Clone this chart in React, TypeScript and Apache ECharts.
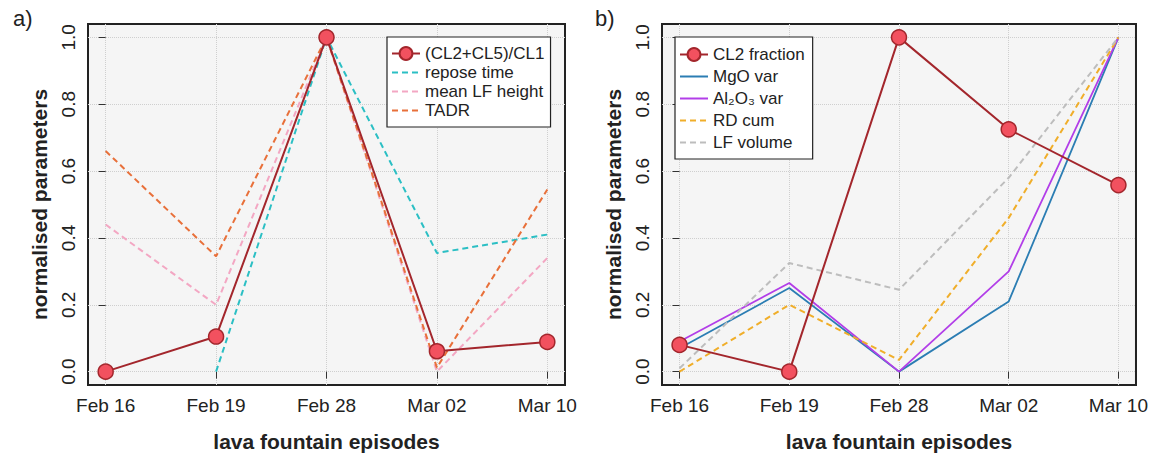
import React, { useEffect, useRef } from "react";
import * as echarts from "echarts";

const episodes = ["Feb 16", "Feb 19", "Feb 28", "Mar 02", "Mar 10"];
const yTicks = [0, 0.2, 0.4, 0.6, 0.8, 1.0];
const xTicks = [0, 1, 2, 3, 4];

// panel a
const clRatio = [0.0, 0.105, 1.0, 0.061, 0.089];
const reposeTime = [null, 0.0, 1.0, 0.355, 0.41];
const meanLFHeight = [0.44, 0.2, 1.0, 0.0, 0.34];
const tadr = [0.66, 0.345, 1.0, 0.012, 0.545];

// panel b
const cl2Fraction = [0.08, 0.0, 1.0, 0.725, 0.558];
const mgoVar = [0.07, 0.25, 0.0, 0.21, 1.0];
const al2o3Var = [0.09, 0.265, 0.0, 0.3, 1.0];
const rdCum = [0.0, 0.2, 0.035, 0.46, 1.0];
const lfVolume = [0.01, 0.325, 0.245, 0.58, 1.0];

const legendA = ["(CL2+CL5)/CL1", "repose time", "mean LF height", "TADR"];
const legendB = ["CL2 fraction", "MgO var", "Al₂O₃ var", "RD cum", "LF volume"];

const FONT = "Liberation Sans, Arial, sans-serif";

const pts = (vals: (number | null)[]) => vals.map((v, i) => [i, v]);

function xAxisFor(gridIndex: number) {
  return {
    type: "value",
    gridIndex,
    min: -0.16,
    max: 4.16,
    splitNumber: 4,
    axisLine: { show: false },
    axisTick: { show: true, length: 7, customValues: xTicks, lineStyle: { color: "#333", width: 1 } },
    axisLabel: {
      customValues: xTicks,
      formatter: (v: number) => episodes[Math.round(v)] ?? "",
      fontSize: 19,
      color: "#222",
      fontFamily: FONT,
      margin: 11,
    },
    splitLine: { show: true, lineStyle: { type: "dotted", color: "#cfcfcf", width: 1 } },
    name: "lava fountain episodes",
    nameLocation: "middle",
    nameGap: 46,
    nameTextStyle: { fontSize: 21, fontWeight: "bold", color: "#222", fontFamily: FONT },
  };
}

function yAxisFor(gridIndex: number) {
  return {
    type: "value",
    gridIndex,
    min: -0.04,
    max: 1.04,
    axisLine: { show: false },
    axisTick: { show: true, length: 7, customValues: yTicks, lineStyle: { color: "#333", width: 1 } },
    axisLabel: {
      customValues: yTicks,
      rotate: 90,
      formatter: (v: number) => v.toFixed(1),
      fontSize: 19,
      color: "#222",
      fontFamily: FONT,
      margin: 10,
    },
    splitLine: { show: true, lineStyle: { type: "dotted", color: "#cfcfcf", width: 1 } },
    name: "normalised parameters",
    nameLocation: "middle",
    nameGap: 38,
    nameTextStyle: { fontSize: 21, fontWeight: "bold", color: "#222", fontFamily: FONT },
  };
}

const DARKRED = "#a3262c";
const MARKFILL = "#f2515f";

function markerSeries(name: string, vals: number[], idx: number) {
  return {
    type: "line",
    name,
    xAxisIndex: idx,
    yAxisIndex: idx,
    data: pts(vals),
    symbol: "circle",
    symbolSize: 15,
    z: 10,
    lineStyle: { color: DARKRED, width: 2 },
    itemStyle: { color: MARKFILL, borderColor: DARKRED, borderWidth: 1.5 },
  };
}

function plainSeries(name: string, vals: (number | null)[], idx: number, color: string, dashed: boolean) {
  return {
    type: "line",
    name,
    xAxisIndex: idx,
    yAxisIndex: idx,
    data: pts(vals),
    symbol: "none",
    showSymbol: false,
    connectNulls: false,
    lineStyle: { color, width: dashed ? 2 : 1.8, type: dashed ? [6, 4] : "solid" },
    itemStyle: { color },
  };
}

const legendData = (names: string[]) =>
  names.map((n, i) => (i === 0 ? { name: n } : { name: n, itemStyle: { opacity: 0, borderWidth: 0 } }));

export default function App() {
  const ref = useRef<HTMLDivElement>(null);
  useEffect(() => {
    if (!ref.current) return;
    const chart = echarts.init(ref.current, null, { renderer: "svg" });
    const legendBase = {
      orient: "vertical",
      backgroundColor: "#ffffff",
      borderColor: "#222",
      borderWidth: 1.2,
      borderRadius: 0,
      itemWidth: 28,
      itemHeight: 16,
      textStyle: { fontSize: 17, color: "#222", fontFamily: FONT },
    };
    chart.setOption({
      animation: false,
      backgroundColor: "#ffffff",
      textStyle: { fontFamily: FONT },
      title: [
        { text: "a)", left: 8, top: 2, textStyle: { fontSize: 22, fontWeight: "normal", color: "#222", fontFamily: FONT } },
        { text: "b)", left: 590, top: 2, textStyle: { fontSize: 22, fontWeight: "normal", color: "#222", fontFamily: FONT } },
      ],
      grid: [
        { left: 88, right: 586, top: 24, bottom: 72, show: true, backgroundColor: "#f5f5f5", borderColor: "#222", borderWidth: 2 },
        { left: 662, right: 12, top: 24, bottom: 72, show: true, backgroundColor: "#f5f5f5", borderColor: "#222", borderWidth: 2 },
      ],
      xAxis: [xAxisFor(0), xAxisFor(1)],
      yAxis: [yAxisFor(0), yAxisFor(1)],
      legend: [
        {
          ...legendBase,
          left: 387,
          top: 37,
          padding: [8, 6, 8, 4],
          itemGap: 2,
          data: legendData(legendA),
        },
        {
          ...legendBase,
          left: 675,
          top: 37,
          padding: [9, 8, 8, 4],
          itemGap: 5,
          data: legendData(legendB),
        },
      ],
      series: [
        plainSeries(legendA[1], reposeTime, 0, "#2bbfc4", true),
        plainSeries(legendA[2], meanLFHeight, 0, "#f3a7c3", true),
        plainSeries(legendA[3], tadr, 0, "#e8703a", true),
        markerSeries(legendA[0], clRatio, 0),
        plainSeries(legendB[1], mgoVar, 1, "#2b7db3", false),
        plainSeries(legendB[2], al2o3Var, 1, "#b23ee8", false),
        plainSeries(legendB[3], rdCum, 1, "#f0ae2a", true),
        plainSeries(legendB[4], lfVolume, 1, "#bdbdbd", true),
        markerSeries(legendB[0], cl2Fraction, 1),
      ],
    });
    return () => chart.dispose();
  }, []);
  return <div ref={ref} style={{ position: "fixed", left: 0, top: 0, width: 1151, height: 457 }} />;
}
